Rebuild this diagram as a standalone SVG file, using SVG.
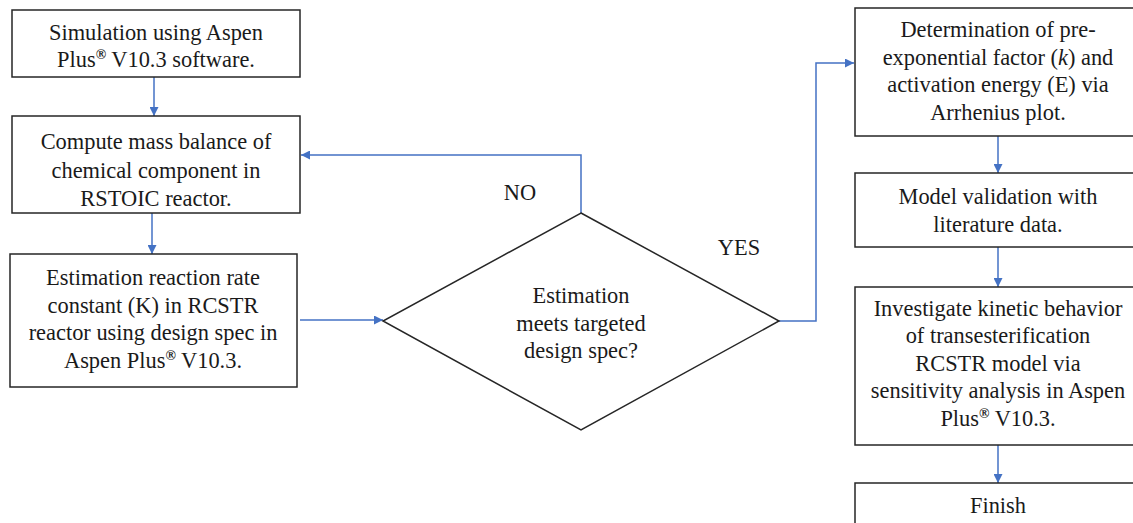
<svg xmlns="http://www.w3.org/2000/svg" width="1133" height="523" viewBox="0 0 1133 523">
<defs>
<marker id="ah" viewBox="0 0 10 10" refX="10" refY="5" markerWidth="9" markerHeight="9" markerUnits="userSpaceOnUse" orient="auto">
<path d="M0,0 L10,5 L0,10 z" fill="#4472C4"/>
</marker>
<style>
.box{fill:#fff;stroke:#262626;stroke-width:1.5}
.c{fill:none;stroke:#4472C4;stroke-width:1.5;marker-end:url(#ah)}
text{font-family:'Liberation Serif',serif;font-size:22.4px;fill:#1a1a1a;text-anchor:middle}
.sup{font-size:14px;font-weight:bold}
</style>
</defs>
<rect width="1133" height="523" fill="#fff"/>
<g id="connectors">
<path class="c" d="M154,77 V116"/>
<path class="c" d="M152,213 V254"/>
<path class="c" d="M300,320 H383"/>
<path class="c" d="M581,213 V155 H301"/>
<path class="c" d="M779,321 H816 V63 H854"/>
<path class="c" d="M998,136 V173"/>
<path class="c" d="M998,247 V287"/>
<path class="c" d="M998,445 V483"/>
</g>
<g id="n1">
<rect class="box" x="12" y="10" width="288" height="67"/>
<text font-family="Liberation Serif" x="156" y="40">Simulation using Aspen</text>
<text font-family="Liberation Serif" x="156" y="67">Plus<tspan class="sup" dy="-8">®</tspan><tspan dy="8"> V10.3 software.</tspan></text>
</g>
<g id="n2">
<rect class="box" x="12" y="116" width="288" height="97"/>
<text font-family="Liberation Serif" x="156" y="149">Compute mass balance of</text>
<text font-family="Liberation Serif" x="156" y="178">chemical component in</text>
<text font-family="Liberation Serif" x="156" y="206">RSTOIC reactor.</text>
</g>
<g id="n3">
<rect class="box" x="10" y="254" width="287" height="133"/>
<text font-family="Liberation Serif" x="153" y="285">Estimation reaction rate</text>
<text font-family="Liberation Serif" x="153" y="313">constant (K) in RCSTR</text>
<text font-family="Liberation Serif" x="153" y="340">reactor using design spec in</text>
<text font-family="Liberation Serif" x="153" y="368">Aspen Plus<tspan class="sup" dy="-8">®</tspan><tspan dy="8"> V10.3.</tspan></text>
</g>
<g id="decision">
<polygon class="box" points="581,213 779,321 581,430 383,321"/>
<text font-family="Liberation Serif" x="581" y="303">Estimation</text>
<text font-family="Liberation Serif" x="581" y="331">meets targeted</text>
<text font-family="Liberation Serif" x="581" y="358">design spec?</text>
</g>
<g id="labels">
<text font-family="Liberation Serif" x="520" y="200">NO</text>
<text font-family="Liberation Serif" x="739" y="255">YES</text>
</g>
<g id="n4">
<rect class="box" x="855" y="8" width="287" height="128"/>
<text font-family="Liberation Serif" x="998" y="37">Determination of pre-</text>
<text font-family="Liberation Serif" x="998" y="65">exponential factor (<tspan font-style="italic">k</tspan>) and</text>
<text font-family="Liberation Serif" x="998" y="92">activation energy (E) via</text>
<text font-family="Liberation Serif" x="998" y="120">Arrhenius plot.</text>
</g>
<g id="n5">
<rect class="box" x="855" y="173" width="287" height="74"/>
<text font-family="Liberation Serif" x="998" y="204">Model validation with</text>
<text font-family="Liberation Serif" x="998" y="232">literature data.</text>
</g>
<g id="n6">
<rect class="box" x="855" y="287" width="287" height="158"/>
<text font-family="Liberation Serif" x="998" y="316">Investigate kinetic behavior</text>
<text font-family="Liberation Serif" x="998" y="343">of transesterification</text>
<text font-family="Liberation Serif" x="998" y="371">RCSTR model via</text>
<text font-family="Liberation Serif" x="998" y="398">sensitivity analysis in Aspen</text>
<text font-family="Liberation Serif" x="998" y="426">Plus<tspan class="sup" dy="-8">®</tspan><tspan dy="8"> V10.3.</tspan></text>
</g>
<g id="n7">
<rect class="box" x="855" y="483" width="287" height="60"/>
<text font-family="Liberation Serif" x="998" y="513">Finish</text>
</g>
</svg>
